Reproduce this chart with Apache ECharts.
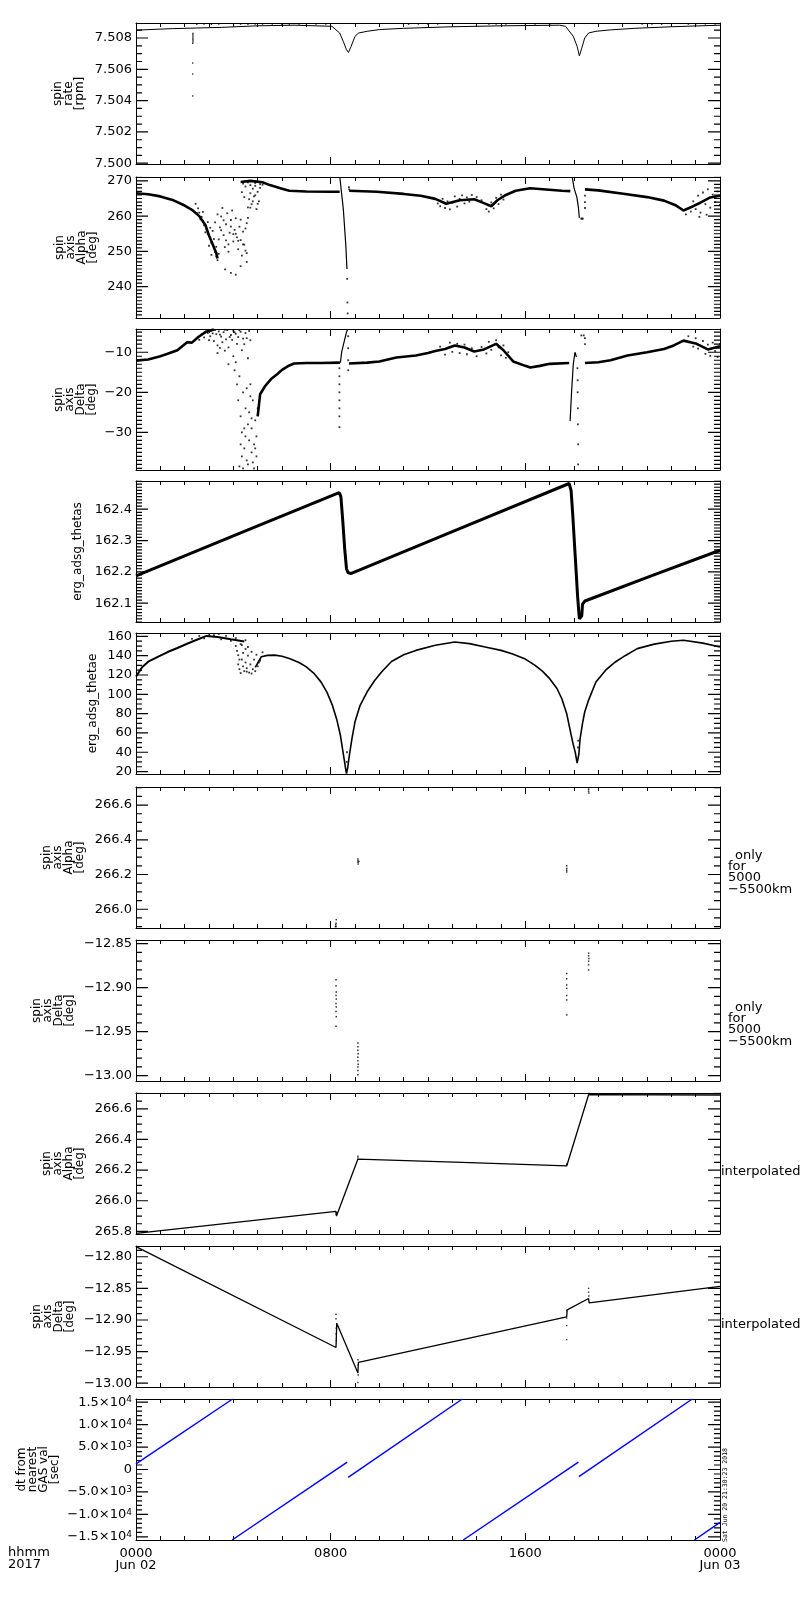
<!DOCTYPE html>
<html><head><meta charset="utf-8">
<script src="https://cdn.jsdelivr.net/npm/echarts@6/dist/echarts.min.js"></script>
<style>html,body{margin:0;padding:0;background:#fff}#c{width:800px;height:1600px}</style>
</head><body><div id="c"></div>
<script>
// ---------------- DATA (time in hours since 2017-06-02 00:00) ----------------
const xTickHours = [0, 8, 16, 24];
const xTickText = ['0000\nJun 02', '0800', '1600', '0000\nJun 03'];

// panel 1: spin rate [rpm]
const spinTicks = [7.500, 7.502, 7.504, 7.506, 7.508];
const spinRateLine = [[0,7.5085],[0.7,7.50855],[1.5,7.5086],[2.5,7.50864],[3.5,7.50868],[5,7.50878],[6.5,7.50882],[8.05,7.50875],[8.37,7.50832],[8.52,7.50778],[8.65,7.50725],[8.73,7.50708],[8.84,7.50746],[9.0,7.50811],[9.15,7.50832],[9.5,7.50843],[10,7.50854],[11,7.50862],[13,7.50872],[15,7.50878],[17.4,7.50882],[17.65,7.50875],[17.97,7.50811],[18.13,7.50746],[18.22,7.50686],[18.32,7.50736],[18.44,7.508],[18.6,7.50832],[18.9,7.50843],[19.5,7.50852],[20.5,7.50862],[22,7.50872],[24,7.50882]];
const spinRateDots = [[2.34,7.5083],[2.34,7.50822],[2.34,7.50814],[2.34,7.50806],[2.34,7.50798],[2.34,7.5079],[2.34,7.50782],[2.34,7.50774],[2.33,7.50766],[2.33,7.5064],[2.33,7.5057],[2.33,7.5043],
 [2.5,7.50888],[2.8,7.50889],[3.1,7.50887],[3.4,7.50889],[4.3,7.50889],[4.6,7.50888],[4.9,7.5089],[5.2,7.50889],[5.6,7.5089],[6.0,7.50888],[6.3,7.5089],[6.7,7.50889],[7.0,7.5089],[7.4,7.50889],[7.8,7.5089],[11.2,7.50888],[11.6,7.50889],[12.0,7.50888],[12.4,7.5089],[14.5,7.50889],[14.8,7.5089],[15.2,7.50889],[16.0,7.50889],[16.4,7.5089],[17.0,7.50889],[20.8,7.50889],[21.2,7.5089],[21.6,7.50888],[22.7,7.50889],[23.0,7.5089],[23.4,7.5089],[23.8,7.50889]];

// panel 2: spin axis Alpha [deg]
const alphaTicks = [240, 250, 260, 270];
const alphaLineA = [[0,266.5],[0.5,266.2],[1,265.6],[1.5,264.6],[2,263.0],[2.3,261.8],[2.6,260.0],[2.85,257.5],[3.0,254.5],[3.15,252.0],[3.3,249.5],[3.35,248.0]];
const alphaLineB = [[4.3,269.7],[4.7,270.0],[5.2,269.6],[5.5,268.8],[6,267.8],[6.3,267.2],[7,267.0],[8,266.9],[8.37,266.9]];
const alphaSpike1 = [[8.38,270.8],[8.52,262],[8.62,252],[8.67,245]];
const alphaLineC = [[8.76,267.2],[9.9,266.9],[11,266.3],[11.7,265.8],[12.3,264.9],[12.75,263.5],[13.3,264.5],[13.9,264.8],[14.3,263.7],[14.6,262.8],[14.85,264.5],[15.2,266.0],[15.6,267.2],[16.2,267.9],[17.5,267.2],[17.85,267.1]];
const alphaSpike2 = [[17.93,271],[18.0,268],[18.12,265.3],[18.18,262.5],[18.22,259.5]];
const alphaLineD = [[18.45,267.6],[19,267.3],[20.1,266.3],[21,265.4],[21.7,264.4],[22.2,263],[22.5,261.6],[22.8,262.5],[23.1,263.5],[23.6,265.3],[24,265.8]];
const alphaDots = [[8.68,242.2],[8.69,235.5],[8.70,232.4],[8.75,268.2],[8.76,267.6],[18.3,259.3],[18.33,259.3],[18.36,259.3],[18.45,265.8],[18.45,264],[18.45,262.3],
 [2.45,263.5],[2.55,262.2],[2.6,261.0],[2.7,259.8],[2.75,258.6],[2.8,257.4],[2.9,256.2],[2.95,255.0],[3.05,253.6],[3.1,252.4],[3.2,251.0],[3.25,249.8],[3.3,248.6],[3.35,247.5],[3.0,251.6],[3.15,255.8],[3.25,258.2],[3.35,260.5],[3.4,253.4],[3.45,256.8],[3.5,259.9],[3.55,262.3],[3.6,254.6],[3.65,251.2],[3.7,257.7],[3.75,260.8],[3.8,249.9],[3.85,255.3],[3.9,258.9],[3.95,261.6],[4.0,252.8],[4.05,256.1],[4.1,259.4],[4.15,254.0],[4.2,250.6],[4.25,257.0],[4.3,253.2],[4.35,248.8],[4.4,255.6],[4.45,251.9],[4.5,250.2],[4.55,258.0],[4.6,262.5],[4.65,264.8],[4.7,266.5],[4.75,263.4],[4.8,267.8],[4.85,265.6],[4.9,268.6],[4.95,262.0],[5.0,266.9],[5.05,264.2],[5.1,268.0],[3.66,244.9],[3.9,243.9],[4.1,243.4],[4.3,245.8],[4.55,247.0],[4.55,249.5],[4.4,269.2],[4.5,268.4],[4.6,269.6],[4.7,268.8],[4.8,269.9],[4.9,269.4],[5.0,269.8],[5.1,269.1],[5.2,268.9],[4.35,266.8],[4.45,265.4],
 [2.5,260.9],[2.65,259.1],[2.75,261.2],[2.85,255.4],[2.95,258.3],[3.05,256.7],[3.1,249.0],[3.2,253.5],[3.3,251.3],[3.4,249.3],[3.5,256.0],[3.6,258.8],[3.7,253.1],[3.8,252.0],[3.9,257.0],[4.0,254.9],[4.1,255.0],[4.2,253.0],[4.3,259.0],[4.4,252.0],[4.5,256.5],[4.6,259.5],[4.7,262.4],[4.8,264.2],[4.9,265.9],[5.0,263.5],
 [12.4,263.6],[12.5,262.8],[12.6,264.9],[12.7,262.3],[12.8,264.2],[12.9,261.9],[13.0,263.8],[13.1,265.6],[13.2,262.7],[13.3,264.9],[13.4,265.9],[13.5,263.6],[13.6,265.3],[13.7,264.1],[13.8,266.0],[14.0,265.4],[14.2,264.5],[14.4,262.0],[14.5,261.3],[14.6,263.9],[14.7,262.2],[14.8,265.2],[14.9,263.4],[15.0,266.1],[15.1,264.7],
 [22.6,260.5],[22.8,261.3],[22.9,264.2],[23.0,262.0],[23.1,265.8],[23.2,261.0],[23.3,266.7],[23.4,263.4],[23.5,267.6],[23.6,262.4],[23.7,266.1],[23.8,264.0],[23.9,267.0],[24.0,263.2],[23.45,260.4],[23.15,259.8]];

// panel 3: spin axis Delta [deg]
const deltaTicks = [-30, -20, -10];
const deltaLineA = [[0,-12.1],[0.5,-11.8],[1,-11.0],[1.3,-10.4],[1.7,-9.5],[2.1,-7.5],[2.3,-7.6],[2.56,-6.2],[2.9,-4.8],[3.2,-4.3]];
const deltaLineB = [[5.0,-26],[5.1,-20.5],[5.3,-18.5],[5.55,-16.7],[5.8,-15.5],[6,-14.4],[6.3,-13.3],[6.5,-12.8],[7,-12.7],[7.6,-12.7],[8.38,-12.6]];
const deltaSpike1 = [[8.4,-12.6],[8.45,-10],[8.55,-7.5],[8.65,-5],[8.7,-4.2]];
const deltaLineC = [[8.75,-12.8],[9.5,-12.6],[10,-12.3],[10.7,-11.3],[11.5,-10.8],[12,-10.2],[12.3,-9.7],[12.7,-9.2],[13.1,-8.3],[13.5,-8.8],[13.9,-9.8],[14.3,-9.3],[14.8,-7.9],[15.1,-9.5],[15.5,-12.3],[16.0,-13.4],[16.2,-13.8],[16.6,-13.4],[17,-12.9],[17.8,-12.7]];
const deltaSpike2 = [[17.84,-27.2],[17.9,-20],[17.97,-13],[18.04,-10.0],[18.1,-11.2]];
const deltaLineD = [[18.45,-12.7],[19,-12.5],[19.5,-12.0],[20.2,-10.8],[21,-10.0],[21.7,-9.2],[22.1,-8.3],[22.5,-7.1],[23,-7.8],[23.5,-9.3],[24,-8.5]];
const deltaDots = [[8.36,-14],[8.36,-16],[8.36,-18],[8.36,-20],[8.36,-22],[8.36,-24],[8.36,-26],[8.36,-28.7],[8.72,-6],[8.72,-9],[8.72,-12],[8.72,-14.5],
 [18.14,-14],[18.15,-17],[18.15,-20],[18.16,-24],[18.16,-28],[18.17,-33],[18.17,-38],[18.3,-5.8],[18.4,-5.8],[18.45,-6.5],[18.45,-8.0],
 [2.7,-5.5],[2.8,-6.3],[2.95,-5.2],[3.05,-6.0],[3.1,-4.6],[3.2,-7.2],[3.3,-5.5],[3.35,-8.3],[3.4,-4.8],[3.5,-6.1],[3.55,-7.5],[3.6,-5.0],[3.7,-6.8],[3.75,-4.5],[3.8,-8.8],[3.9,-5.7],[3.95,-6.9],[4.0,-4.6],[4.1,-5.4],[4.15,-7.9],[4.2,-6.2],[4.3,-4.9],[4.35,-9.5],[4.4,-6.6],[4.45,-8.0],[4.5,-5.2],[4.6,-11.5],[4.7,-7.0],[3.35,-10.2],[3.65,-9.6],[3.45,-8.9],
 [2.6,-6.9],[2.85,-5.0],[3.0,-7.0],[3.15,-5.3],[3.25,-4.5],[3.45,-5.6],[3.65,-4.4],[3.85,-6.2],[4.05,-5.0],[4.25,-4.5],[4.55,-6.5],[4.65,-4.7],
 [4.05,-14.5],[4.15,-18],[4.2,-22],[4.25,-16],[4.3,-26],[4.35,-30],[4.4,-20],[4.45,-34],[4.5,-24],[4.55,-37],[4.6,-28],[4.65,-32],[4.7,-18],[4.75,-35],[4.8,-22],[4.85,-39],[4.9,-27],[4.95,-31],[4.25,-38.5],[4.35,-36],[4.45,-29],[4.55,-19],[4.65,-25],[4.75,-29],[4.85,-33],[4.95,-36],[5.0,-24],[4.4,-39],[4.6,-38],[4.8,-37.5],[4.1,-12.5],[4.0,-11.0],[3.8,-13.0],[4.7,-21],[4.9,-34],[4.3,-33],[4.5,-31],[4.75,-26.5],
 [12.5,-8.6],[12.7,-10.6],[12.9,-7.6],[13.0,-9.9],[13.2,-7.9],[13.3,-10.2],[13.5,-8.1],[13.6,-10.5],[13.8,-9.0],[14.0,-11.0],[14.2,-8.7],[14.4,-10.3],[14.5,-7.4],[14.6,-9.4],[14.8,-7.0],[14.9,-8.8],[15.0,-10.8],[15.1,-8.3],[15.2,-11.4],[15.3,-10.0],
 [23.0,-6.5],[23.1,-9.1],[23.3,-7.2],[23.4,-10.4],[23.5,-8.1],[23.6,-10.9],[23.7,-7.6],[23.8,-9.7],[23.9,-11.2],[24.0,-7.9],[22.7,-6.0],[22.9,-8.6]];

// panel 4: erg_adsg_thetas
const thetasTicks = [162.1, 162.2, 162.3, 162.4];
const thetasLine = [[0,162.187],[4.45,162.329],[8.35,162.453],[8.42,162.44],[8.5,162.36],[8.58,162.27],[8.65,162.21],[8.72,162.197],[8.85,162.195],[13.3,162.338],[17.8,162.482],[17.88,162.46],[17.95,162.38],[18.05,162.25],[18.15,162.12],[18.22,162.05],[18.27,162.044],[18.32,162.06],[18.35,162.097],[18.45,162.107],[21.2,162.188],[24,162.269]];

// panel 5: erg_adsg_thetae
const thetaeTicks = [20, 40, 60, 80, 100, 120, 140, 160];
const thetaeUpper = [[0,118.3],[0.25,128],[0.5,133.8],[1,140],[1.3,143.8],[1.7,148],[2.1,152.4],[2.5,156.5],[2.9,160.5],[3.35,159.3],[3.9,157],[4.45,154.8]];
const thetaeLower = [[4.9,128],[5.15,138.9],[5.4,140.3],[5.7,140.6],[6.0,139.5],[6.3,137],[6.7,133],[7.0,128.4],[7.3,122],[7.6,112.9],[7.85,102],[8.07,88.8],[8.25,74],[8.4,57.6],[8.55,33.5],[8.62,22],[8.65,18],[8.7,24],[8.77,37],[8.88,55],[9,71.5],[9.2,88],[9.5,102.6],[9.8,114],[10.1,123.3],[10.5,134],[11,141],[11.5,145.5],[12.3,150.8],[13.1,154.1],[13.7,152.5],[14.35,149],[15,145.5],[15.45,142],[16,136.5],[16.4,130],[16.7,124],[17,116.2],[17.3,106],[17.5,95.4],[17.7,80],[17.8,67.8],[17.95,50],[18.05,40.2],[18.13,28.8],[18.2,38],[18.25,54],[18.35,70],[18.44,81.7],[18.6,94],[18.9,112.8],[19.3,125],[19.7,133.5],[20.1,140],[20.6,147.3],[21.3,152],[22,155],[22.5,156],[23.3,153],[24,149]];
const thetaeDots = [[2.3,157.5],[2.6,160.5],[2.8,158],[3.0,162.5],[3.2,161.3],[3.4,162.5],[3.5,157],[3.7,160.5],[3.9,155.5],[4.1,158.2],[4.3,152],[4.5,156],
 [4.1,150],[4.15,145],[4.2,140.5],[4.2,131],[4.25,126],[4.3,122],[4.35,136],[4.4,129],[4.45,124],[4.5,147],[4.5,133],[4.55,127],[4.6,140],[4.65,122.5],[4.7,131],[4.75,144],[4.8,126],[4.85,136],[4.9,124],[4.95,141],[5.0,129],[5.05,133],[5.1,135],[5.2,143.5],[4.35,151],[4.6,149],[4.4,143],[4.25,136],[4.75,121.5],[4.55,123.5],[8.66,30],[8.67,40],[18.16,45],[18.17,52]];

// panel 6: spin axis Alpha (only for 5000-5500 km)
const alphaOnlyTicks = [266.0, 266.2, 266.4, 266.6];
const alphaOnlyDots = [[8.2,265.90],[8.22,265.92],[8.23,265.94],[8.21,265.91],[8.22,265.90],[9.12,266.29],[9.12,266.28],[9.12,266.27],[9.13,266.26],[9.16,266.275],[17.7,266.25],[17.7,266.235],[17.7,266.225],[17.7,266.215],[18.6,266.70],[18.6,266.69],[18.6,266.68],[18.61,266.67]];

// panel 7: spin axis Delta (only for 5000-5500 km)
const deltaOnlyTicks = [-13.00, -12.95, -12.90, -12.85];
const deltaOnlyDots = [[8.22,-12.891],[8.22,-12.898],[8.23,-12.905],[8.22,-12.909],[8.23,-12.913],[8.22,-12.918],[8.23,-12.922],[8.22,-12.927],[8.23,-12.933],[8.22,-12.944],
 [9.12,-12.963],[9.12,-12.967],[9.12,-12.971],[9.13,-12.975],[9.12,-12.979],[9.12,-12.983],[9.13,-12.987],[9.12,-12.990],[9.12,-12.994],[9.12,-12.999],
 [17.7,-12.884],[17.7,-12.890],[17.7,-12.897],[17.7,-12.901],[17.7,-12.909],[17.7,-12.914],[17.7,-12.931],
 [18.6,-12.861],[18.6,-12.864],[18.61,-12.867],[18.6,-12.870],[18.6,-12.874],[18.6,-12.880]];

// panel 8: spin axis Alpha (interpolated)
const alphaInterpTicks = [265.8, 266.0, 266.2, 266.4, 266.6];
const alphaInterpLine = [[0,265.787],[8.22,265.931],[8.24,265.90],[9.12,266.272],[13.4,266.25],[17.7,266.227],[17.72,266.225],[18.6,266.692],[24,266.69]];
const alphaInterpDots = [[8.23,265.91],[8.23,265.92],[9.12,266.28],[9.12,266.29],[17.7,266.24],[18.6,266.70]];

// panel 9: spin axis Delta (interpolated)
const deltaInterpTicks = [-13.00, -12.95, -12.90, -12.85, -12.80];
const deltaInterpLine = [[0,-12.784],[8.22,-12.9435],[8.25,-12.905],[9.12,-12.984],[9.14,-12.967],[17.7,-12.895],[17.72,-12.884],[18.6,-12.866],[18.62,-12.873],[24,-12.847]];
const deltaInterpDots = [[8.22,-12.891],[8.22,-12.898],[8.23,-12.913],[8.22,-12.922],[8.23,-12.933],[9.12,-12.963],[9.12,-12.971],[9.13,-12.987],[9.12,-12.999],[17.7,-12.885],[17.7,-12.897],[17.7,-12.909],[17.7,-12.931],[18.6,-12.85],[18.6,-12.856],[18.61,-12.862]];

// panel 10: dt from nearest GAS val [sec]
const dtTicks = [-15000, -10000, -5000, 0, 5000, 10000, 15000];
const dtSegA = [[0,1280],[3.97,15700]];
const dtSegB = [[3.95,-15700],[8.68,1640]];
const dtSegC = [[8.72,-1730],[13.41,15700]];
const dtSegD = [[13.45,-15700],[18.18,1640]];
const dtSegE = [[18.2,-1570],[22.86,15700]];
const dtSegF = [[22.95,-15700],[24,-11800]];

// ---------------- LAYOUT ----------------
const FONT = 'DejaVu Sans';
const tops = [23,177,329,481,633,787,940,1093,1246,1399];
const H = 141, LEFT = 136, W = 584;
const minus = s => s.replace('-', '\u2212');
function sciFmt(v){
  if (Math.abs(v) < 1e-9) return '0';
  const e = Math.floor(Math.log10(Math.abs(v)) + 1e-9);
  const m = v / Math.pow(10, e);
  return minus(m.toFixed(1)) + '\u00d710{s|' + e + '}';
}
const panels = [
  {min:7.49995, max:7.50896, major:spinTicks, step:0.0005, dec:3, name:'spin\nrate\n[rpm]', gap:51},
  {min:231.1, max:271.1, major:alphaTicks, step:1, dec:0, name:'spin\naxis\nAlpha\n[deg]', gap:38},
  {min:-39.4, max:-4.2, major:deltaTicks, step:1, dec:0, name:'spin\naxis\nDelta\n[deg]', gap:39},
  {min:162.04, max:162.49, major:thetasTicks, step:0.01, dec:1, name:'erg_adsg_thetas', gap:53},
  {min:17.5, max:163.5, major:thetaeTicks, step:5, dec:0, name:'erg_adsg_thetae', gap:38},
  {min:265.892, max:266.704, major:alphaOnlyTicks, step:0.05, dec:1, name:'spin\naxis\nAlpha\n[deg]', gap:51},
  {min:-13.006, max:-12.846, major:deltaOnlyTicks, step:0.01, dec:2, name:'spin\naxis\nDelta\n[deg]', gap:61},
  {min:265.783, max:266.703, major:alphaInterpTicks, step:0.05, dec:1, name:'spin\naxis\nAlpha\n[deg]', gap:51},
  {min:-13.006, max:-12.783, major:deltaInterpTicks, step:0.01, dec:2, name:'spin\naxis\nDelta\n[deg]', gap:61},
  {min:-15700, max:15700, major:dtTicks, step:1000, sci:true, name:'dt from\nnearest\nGAS val\n[sec]', gap:76}
];
function steps(a, b, s){
  const out = [];
  for (let k = Math.ceil(a/s - 1e-7); k*s <= b + s*1e-7; k++) out.push(+(k*s).toFixed(8));
  return out;
}
const grids = [], xAxes = [], yAxes = [], series = [];
const GAP = ['-', '-'];
panels.forEach((p, i) => {
  grids.push({left:LEFT, width:W, top:tops[i], height:H, outerBoundsMode:'none', containLabel:false});
  ['bottom','top'].forEach(pos => {
    const showLab = (i === 9 && pos === 'bottom');
    xAxes.push({type:'value', gridIndex:i, min:0, max:24, interval:8, position:pos,
      axisLine:{show:true, onZero:false, lineStyle:{color:'#000', width:1}},
      axisTick:{show:true, inside:true, length:7, lineStyle:{color:'#000', width:1}},
      minorTick:{show:true, splitNumber:8, length:4, lineStyle:{color:'#000', width:1}},
      splitLine:{show:false}, minorSplitLine:{show:false},
      axisLabel:{show:showLab, margin:8, fontSize:13, lineHeight:12, fontFamily:FONT, color:'#000',
        showMinLabel:true, showMaxLabel:true,
        formatter: v => { const k = xTickHours.indexOf(v); return k >= 0 ? xTickText[k] : ''; }}
    });
  });
  ['left','right'].forEach(pos => {
    const lab = pos === 'left';
    yAxes.push({type:'value', gridIndex:i, min:p.min, max:p.max, position:pos,
      axisLine:{show:true, onZero:false, lineStyle:{color:'#000', width:1}},
      axisTick:{show:false},
      axisLabel:{show:lab, customValues:p.major, margin:4, fontSize:13, fontFamily:FONT, color:'#000',
        formatter: v => p.sci ? sciFmt(v) : minus(v.toFixed(p.dec)),
        rich:{s:{fontSize:9, fontFamily:FONT, color:'#000', verticalAlign:'top', lineHeight:9, padding:[0,0,8,0]}}},
      splitLine:{show:false},
      name: lab ? p.name : '', nameLocation:'middle', nameRotate:90, nameGap:p.gap, nameMoveOverlap:false,
      nameTextStyle:{fontSize:12, lineHeight:11, fontFamily:FONT, color:'#000'}
    });
  });
  // y tick marks: short segments in the panel's own data units (pixel length -> hours)
  const hx = px => px * 24 / W;
  const tk = [];
  p.major.forEach(v => { tk.push([0, v], [hx(12), v], GAP, [24 - hx(12), v], [24, v], GAP); });
  steps(p.min, p.max, p.step).forEach(v => { tk.push([0, v], [hx(6), v], GAP, [24 - hx(6), v], [24, v], GAP); });
  series.push({type:'line', xAxisIndex:2*i, yAxisIndex:2*i, data:tk, showSymbol:false, symbol:'none',
    connectNulls:false, lineStyle:{color:'#000', width:1.2}, animation:false});
});
function line(i, data, w, color){
  series.push({type:'line', xAxisIndex:2*i, yAxisIndex:2*i, data:data, showSymbol:false, symbol:'none',
    lineStyle:{color:color || '#000', width:w}, animation:false, clip:true, z:3});
}
function dots(i, data, sz){
  series.push({type:'scatter', xAxisIndex:2*i, yAxisIndex:2*i, data:data, symbol:'rect', symbolSize:sz || 1.6,
    itemStyle:{color:'#000'}, animation:false, clip:true, z:2});
}
line(0, spinRateLine, 1); dots(0, spinRateDots, 1.4);
[alphaLineA, alphaLineB, alphaLineC, alphaLineD].forEach(d => line(1, d, 2.6));
[alphaSpike1, alphaSpike2].forEach(d => line(1, d, 1.2));
dots(1, alphaDots, 1.8);
[deltaLineA, deltaLineB, deltaLineC, deltaLineD].forEach(d => line(2, d, 2.6));
[deltaSpike1, deltaSpike2].forEach(d => line(2, d, 1.2));
dots(2, deltaDots, 1.8);
line(3, thetasLine, 3);
line(4, thetaeUpper, 2); line(4, thetaeLower, 1.6); dots(4, thetaeDots, 1.8);
dots(5, alphaOnlyDots, 1.5);
dots(6, deltaOnlyDots, 1.5);
line(7, alphaInterpLine, 1.3); dots(7, alphaInterpDots, 1.4);
line(8, deltaInterpLine, 1.3); dots(8, deltaInterpDots, 1.4);
[dtSegA, dtSegB, dtSegC, dtSegD, dtSegE, dtSegF].forEach(d => line(9, d, 1.5, '#0000ff'));

const txt = (x, y, t, extra) => Object.assign({type:'text', x:x, y:y, silent:true,
  style:Object.assign({text:t, fontSize:13, fontFamily:FONT, fill:'#000', lineHeight:11, verticalAlign:'middle'}, extra || {})});
const graphics = [
  txt(8, 1553, 'hhmm'), txt(8, 1565, '2017'),
  txt(735, tops[5]+69, 'only'), txt(728, tops[5]+74, 'for\n5000\n\u22125500km', {verticalAlign:'top', lineHeight:11.3}),
  txt(735, tops[6]+68, 'only'), txt(728, tops[6]+73, 'for\n5000\n\u22125500km', {verticalAlign:'top', lineHeight:11.3}),
  txt(721, tops[7]+79, 'interpolated'), txt(721, tops[8]+79, 'interpolated'),
  {type:'text', x:725, y:1495, rotation:Math.PI/2, silent:true,
   style:{text:'Sat Jun 20 21:30:23 2018', fontSize:6.5, fontFamily:'DejaVu Sans Mono', fill:'#000', align:'center', verticalAlign:'middle'}}
];

const chart = echarts.init(document.getElementById('c'), null, {renderer:'canvas'});
chart.setOption({animation:false, backgroundColor:'#fff', grid:grids, xAxis:xAxes, yAxis:yAxes, series:series, graphic:graphics});
</script></body></html>
